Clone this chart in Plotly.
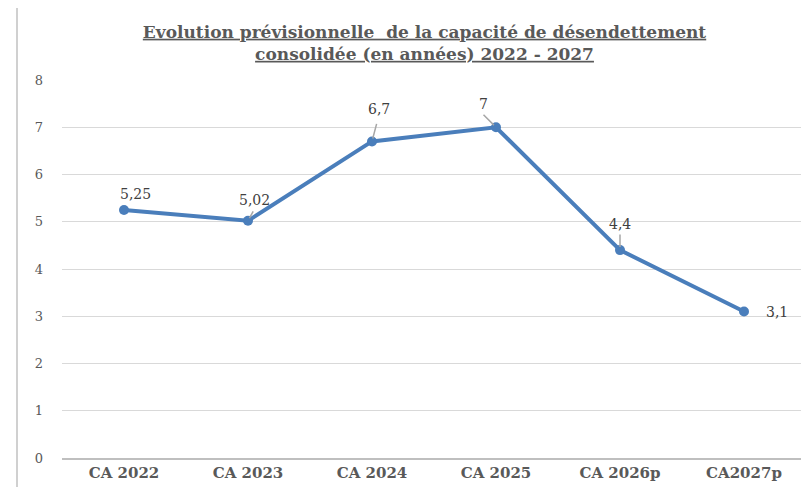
import plotly.graph_objects as go

categories = ["CA 2022", "CA 2023", "CA 2024", "CA 2025", "CA 2026p", "CA2027p"]
values = [5.25, 5.02, 6.7, 7, 4.4, 3.1]
value_labels = ["5,25", "5,02", "6,7", "7", "4,4", "3,1"]
y_ticks = [0, 1, 2, 3, 4, 5, 6, 7, 8]

# label placement (pixel shifts from the point) and leader lines (tail offsets)
label_shift = [(11, 16), (6, 21), (7, 32), (-13, 23), (0, 26), (33, 0)]
leader_tail = [None, (6, -11), (5, -19), (-14, -14), (0, -17), None]

GREY = "#595959"
SERIF = "DejaVu Serif"

fig = go.Figure()
fig.add_trace(go.Scatter(
    x=categories, y=values, mode="lines+markers",
    line=dict(color="#4a7ebb", width=4),
    marker=dict(color="#4a7ebb", size=10),
    hoverinfo="skip", showlegend=False,
))

for c, v, t, (sx, sy), lead in zip(categories, values, value_labels, label_shift, leader_tail):
    if lead is not None:
        fig.add_annotation(
            x=c, y=v, text="", showarrow=True, ax=lead[0], ay=lead[1],
            arrowhead=0, arrowwidth=1.5, arrowcolor="#a6a6a6",
            standoff=3, startstandoff=0,
        )
    fig.add_annotation(
        x=c, y=v, text=t, showarrow=False, xshift=sx, yshift=sy,
        xanchor="center", yanchor="middle",
        font=dict(family=SERIF, size=14, color="#404040"),
    )

fig.update_layout(
    width=801, height=479,
    margin=dict(l=54, r=3, t=72, b=29),
    paper_bgcolor="white", plot_bgcolor="white",
    title=dict(
        text="<b><u>Evolution prévisionnelle  de la capacité de désendettement</u></b><br><b><u>consolidée (en années) 2022 - 2027</u></b>",
        x=0.52, xanchor="center", y=0.938, yanchor="top",
        font=dict(family=SERIF, size=17, color=GREY),
    ),
    xaxis=dict(
        type="category", range=[-0.5, 5.5], showgrid=False,
        showline=True, linecolor="#bfbfbf", linewidth=1.5,
        ticks="", tickfont=dict(family=SERIF, size=15, color=GREY),
        tickprefix="<b>", ticksuffix="</b>",
    ),
    yaxis=dict(
        range=[0, 8], tickvals=y_ticks, showgrid=True, gridcolor="#d9d9d9",
        gridwidth=1, zeroline=False, showline=False, ticks="",
        tickfont=dict(family=SERIF, size=13, color=GREY),
        ticklabelstandoff=18,
    ),
)

# outer chart border (left edge), partially visible
fig.add_shape(type="line", xref="paper", yref="paper",
              x0=-0.0605, x1=-0.0605, y0=-0.08, y1=1.2,
              line=dict(color="#d0d0d0", width=2))

fig.write_html("out.html")
